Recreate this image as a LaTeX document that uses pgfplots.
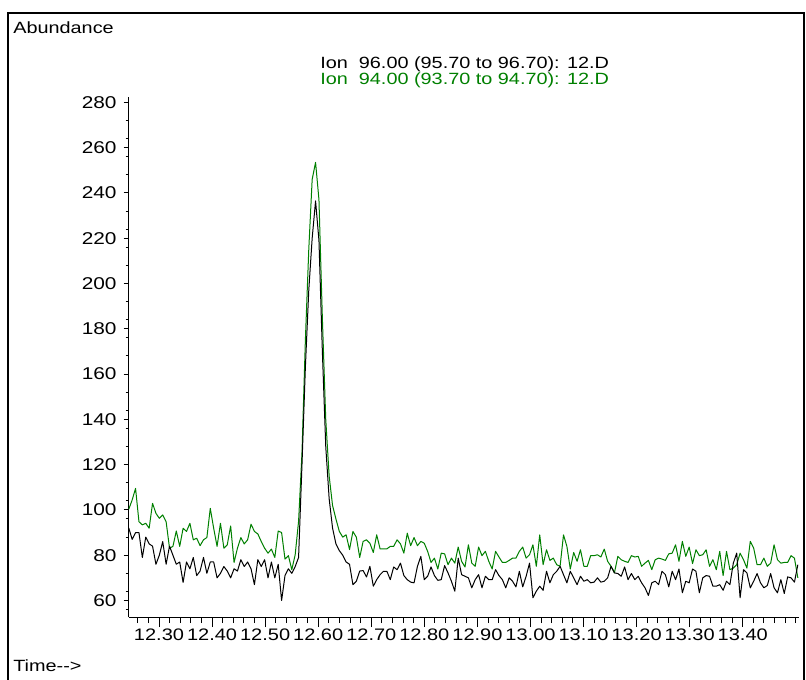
\documentclass[border=0pt]{standalone}
\usepackage{fontspec}
\setmainfont{Liberation Sans}
\usepackage{pgfplots}
\usepackage{pgfplotstable}
\pgfplotsset{compat=1.18}
\definecolor{ionGreen}{RGB}{0,128,0}
\pgfplotstableread{
t a b
12.2430 92 100.3
12.2494 87 104.4
12.2558 90 109.5
12.2622 90 94.8
12.2686 79 93.4
12.2750 88 94.1
12.2814 85 91.9
12.2878 84 102.9
12.2942 76 98.5
12.3006 80 96.3
12.3070 86 97.8
12.3134 76 94.8
12.3198 84 83.1
12.3262 80 83.9
12.3326 76 90.7
12.3390 77 83.9
12.3454 68 91.9
12.3518 77 90.5
12.3582 74 94.1
12.3646 79 86.8
12.3710 71 87.5
12.3774 73 84.2
12.3838 79 86.8
12.3902 72 87.8
12.3966 77 100.7
12.4030 77 91.9
12.4094 70 83.9
12.4158 72 94.1
12.4222 75 83.1
12.4286 73 84.6
12.4350 70 92.9
12.4414 74 76.8
12.4478 73 83.1
12.4542 78 87.8
12.4606 75 85
12.4670 77 86.8
12.4734 74 93.7
12.4798 67 90.5
12.4862 78 89.4
12.4926 75 86.1
12.4990 78 83.1
12.5054 70 80.9
12.5118 77 82.7
12.5182 70 79
12.5246 76 90.7
12.5310 60 90
12.5374 71 78.3
12.5438 74 79.8
12.5502 72 73.6
12.5566 75 80.2
12.5630 79 95
12.5694 120 125
12.5758 163 175
12.5822 197 215
12.5886 220 246
12.5950 236.5 253.5
12.6014 219 237
12.6078 170 185
12.6142 128 140
12.6206 105 115
12.6270 92 102
12.6334 85 96
12.6398 82 90.5
12.6462 80 88
12.6526 77 89
12.6590 76 82.5
12.6654 67 90.5
12.6718 68.5 88
12.6782 73 79
12.6846 73.2 86.1
12.6910 70.4 86.8
12.6974 75.1 85.3
12.7038 66.3 81.2
12.7102 69.2 89
12.7166 71.4 82.8
12.7230 72.9 82.8
12.7294 72.9 82.8
12.7358 69.2 83.9
12.7422 74.8 83.9
12.7486 73.6 86.8
12.7550 76.5 85
12.7614 71 80.9
12.7678 69.2 89.7
12.7742 68.1 84.2
12.7806 67.8 87.8
12.7870 75.1 84.2
12.7934 79.5 86.1
12.7998 69.2 85.3
12.8062 70.7 81.7
12.8126 74.8 76.8
12.8190 71 78.7
12.8254 68.9 73.9
12.8318 69.2 80.9
12.8382 75.4 80.6
12.8446 72.2 75.8
12.8510 68.5 78.7
12.8574 64.1 76.5
12.8638 78.7 83.6
12.8702 71.4 77.3
12.8766 70.7 74.8
12.8830 70 84.6
12.8894 65.6 76.5
12.8958 69.2 75.1
12.9022 71.4 83.6
12.9086 65.6 79.8
12.9150 70.7 81.7
12.9214 69.2 77.3
12.9278 69.2 73.9
12.9342 73.6 81.7
12.9406 71 79.2
12.9470 69.2 76.8
12.9534 65.6 76.8
12.9598 70 77.7
12.9662 68.5 78.7
12.9726 66 78.7
12.9790 72.9 81.7
12.9854 66 83.6
12.9918 70.7 78.7
12.9982 76.5 80.2
13.0046 61.2 84.6
13.0110 64.1 75.1
13.0174 66.3 89
13.0238 64.5 75.8
13.0302 72.9 82.4
13.0366 67.8 77.7
13.0430 71.4 78.7
13.0494 72.9 75.8
13.0558 75.1 75.1
13.0622 71.4 89
13.0686 67.8 83.9
13.0750 72.9 73.9
13.0814 70 81.2
13.0878 67 77.3
13.0942 70.7 82.4
13.1006 68.5 75.1
13.1070 69.2 75.1
13.1134 67.8 79.8
13.1198 68.1 79.8
13.1262 70 80.2
13.1326 68.1 79.2
13.1390 68.5 82.7
13.1454 70 77.3
13.1518 75.1 75.1
13.1582 72.2 72.2
13.1646 71.9 79.5
13.1710 70.7 78
13.1774 74.8 77.3
13.1838 69.2 76.8
13.1902 71.9 79.8
13.1966 69.2 79.2
13.2030 70.7 79.5
13.2094 67.8 75.1
13.2158 65.6 76.5
13.2222 62.2 77.7
13.2286 67.8 73.6
13.2350 68.5 78
13.2414 67 78.7
13.2478 72.9 78.3
13.2542 71.4 77.7
13.2606 66 80.6
13.2670 72.9 80.9
13.2734 69.2 84.6
13.2798 73.9 77.3
13.2862 63.4 86.1
13.2926 68.5 79.5
13.2990 67.8 83.6
13.3054 73.9 76.3
13.3118 72.9 82.4
13.3182 63.4 79.8
13.3246 70 80.2
13.3310 71 82.4
13.3374 70.7 75.1
13.3438 66.3 78
13.3502 66.3 73.6
13.3566 67 81.7
13.3630 64.5 71
13.3694 68.5 81.7
13.3758 67 73.6
13.3822 76.5 74.3
13.3886 80.9 75.8
13.3950 61.2 80.9
13.4014 73.6 78
13.4078 72.2 74.3
13.4142 65.6 86.1
13.4206 68.5 83.1
13.4270 71.9 75.8
13.4334 67.8 75.8
13.4398 65.6 78.7
13.4462 66.6 75.1
13.4526 71.9 76.5
13.4590 65.6 84.6
13.4654 63.4 78
13.4718 69.2 76.5
13.4782 63.1 76.8
13.4846 70.4 76.8
13.4910 70 79.8
13.4974 68.1 78.7
13.5038 75.8 70
}\chromdata
\begin{document}
\begin{tikzpicture}
\useasboundingbox (0,0) rectangle (604.5pt,509.25pt);
\fill[white] (0,0) rectangle (604.5pt,509.25pt);
\draw[line width=1.125pt] (6pt,-15pt) rectangle (603pt,499.5pt);
\begin{axis}[
  at={(96.375pt,46.5pt)}, anchor=south west,
  scale only axis, width=502.875pt, height=390pt,
  xmin=12.2425, xmax=13.506, ymin=52.7, ymax=282.4,
  axis x line*=bottom, axis y line*=left,
  axis line style={line width=0.75pt, -},
  tick align=outside,
  major tick length=7.5pt, minor tick length=4.5pt,
  tick style={black, line width=0.75pt},
  ytick style={/pgfplots/major tick length=3.75pt, /pgfplots/minor tick length=2.25pt},
  xtick={12.3,12.4,12.5,12.6,12.7,12.8,12.9,13.0,13.1,13.2,13.3,13.4},
  xticklabels={12.30,12.40,12.50,12.60,12.70,12.80,12.90,13.00,13.10,13.20,13.30,13.40},
  minor xtick={12.26,12.28,...,13.51},
  ytick={60,80,...,280},
  yticklabels={60,80,100,120,140,160,180,200,220,240,260,280},
  minor ytick={56,64,...,280},
  xticklabel style={font=\fontsize{12.5}{14}\selectfont, xscale=1.2, inner sep=1pt},
  yticklabel style={font=\fontsize{12.8}{14}\selectfont, xscale=1.22, inner sep=1pt},
  clip=false,
]
\addplot[ionGreen, line width=0.75pt, line join=round] table[x=t, y=b] {\chromdata};
\addplot[black, line width=0.75pt, line join=round] table[x=t, y=a] {\chromdata};
\end{axis}
\begin{scope}[every node/.style={font=\fontsize{12.2}{14}\selectfont, xscale=1.22, inner sep=0pt, anchor=west}]
\node at (9.75pt,488.625pt) {Abundance};
\node at (9.75pt,9.75pt) {Time-{}->};
\node at (240pt,461.25pt) {Ion\ \ 96.00 (95.70 to 96.70): 12.D};
\node[text=ionGreen] at (240pt,449.25pt) {Ion\ \ 94.00 (93.70 to 94.70): 12.D};
\end{scope}
\end{tikzpicture}
\end{document}
